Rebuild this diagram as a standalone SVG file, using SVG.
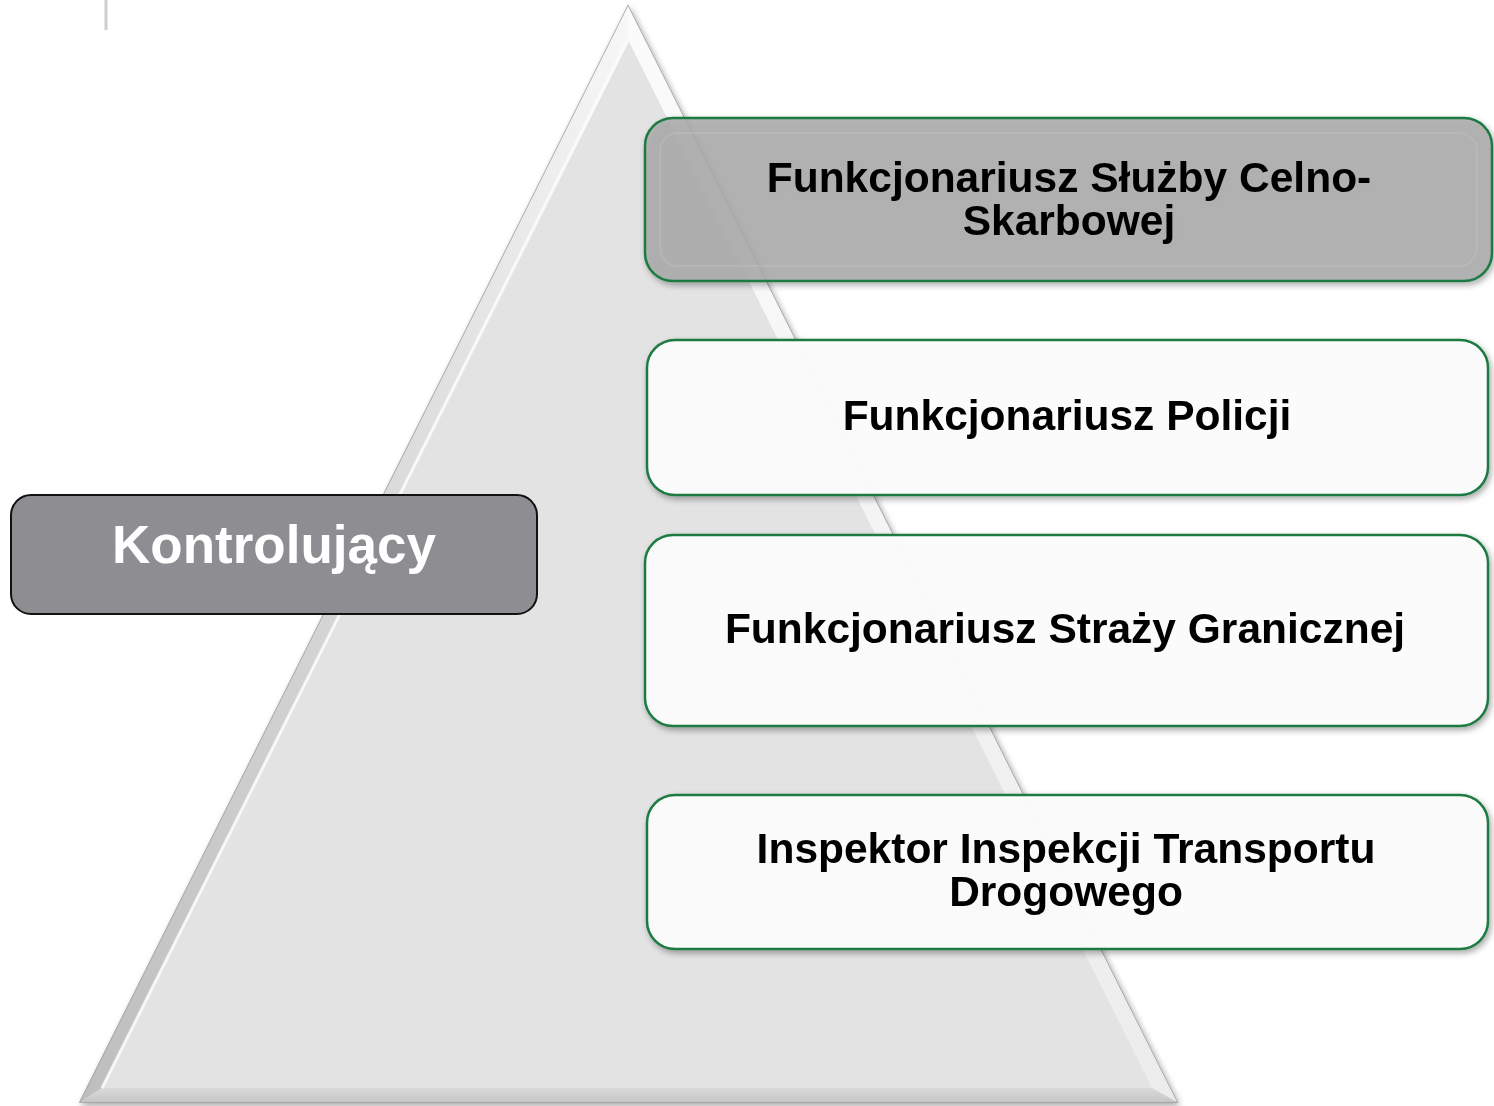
<svg xmlns="http://www.w3.org/2000/svg" width="1494" height="1106" viewBox="0 0 1494 1106">
<style>
.t{font-family:"Liberation Sans",Arial,sans-serif;font-weight:bold;text-anchor:middle}
.lbl{font-size:42.5px;fill:#000}
.box{stroke:#1c7a42;stroke-width:2.5}
</style>
<defs>
<linearGradient id="lf" x1="0" y1="0" x2="1" y2="0">
<stop offset="0" stop-color="#bdbdbd"/><stop offset="0.6" stop-color="#dcdcdc"/><stop offset="1" stop-color="#f7f7f7"/>
</linearGradient>
<linearGradient id="rf" x1="0" y1="0" x2="1" y2="0">
<stop offset="0" stop-color="#fbfbfb"/><stop offset="1" stop-color="#ececec"/>
</linearGradient>
<linearGradient id="bf" x1="0" y1="0" x2="0" y2="1">
<stop offset="0" stop-color="#dadada"/><stop offset="1" stop-color="#c6c6c6"/>
</linearGradient>
<filter id="sh" x="-5%" y="-5%" width="110%" height="115%">
<feGaussianBlur in="SourceAlpha" stdDeviation="3"/><feOffset dx="2" dy="3"/>
<feComponentTransfer><feFuncA type="linear" slope="0.35"/></feComponentTransfer>
<feMerge><feMergeNode/><feMergeNode in="SourceGraphic"/></feMerge>
</filter>
</defs>
<rect width="1494" height="1106" fill="#fff"/>
<line x1="106" y1="0" x2="106" y2="30" stroke="#cfcfcf" stroke-width="3"/>
<g id="pyramid" filter="url(#sh)">
<polygon points="628,6 80,1102 1177,1102" fill="#e2e2e2" stroke="#9a9a9a" stroke-width="1.5"/>
<polygon points="628,6 80,1102 102,1088 628,40" fill="url(#lf)"/>
<polygon points="628,6 628,40 1152,1088 1177,1102" fill="url(#rf)"/>
<polygon points="80,1102 102,1088 1152,1088 1177,1102" fill="url(#bf)"/>
<polygon points="628,40 102,1088 1152,1088" fill="#e3e3e3"/>
<line x1="628" y1="40" x2="102" y2="1088" stroke="#ffffff" stroke-width="3" opacity="0.8"/>
</g>
<g id="kontrolujacy">
<rect x="11" y="495" width="526" height="119" rx="20" fill="#8e8d92" stroke="#111" stroke-width="2"/>
<text class="t" x="274" y="563" font-size="53" fill="#fff">Kontrolujący</text>
</g>
<g id="n1" filter="url(#sh)">
<rect class="box" x="645" y="118" width="847" height="163" rx="28" fill="#ababab" fill-opacity="0.85"/>
<rect x="660" y="133" width="817" height="133" rx="18" fill="none" stroke="#c4c4c4" stroke-width="2" opacity="0.35"/>
<text class="t lbl" x="1069" y="192">Funkcjonariusz Służby Celno-</text>
<text class="t lbl" x="1069" y="235">Skarbowej</text>
</g>
<g id="n2" filter="url(#sh)">
<rect class="box" x="647" y="340" width="841" height="155" rx="28" fill="#fcfcfc" fill-opacity="0.96"/>
<text class="t lbl" x="1067" y="430">Funkcjonariusz Policji</text>
</g>
<g id="n3" filter="url(#sh)">
<rect class="box" x="645" y="535" width="843" height="191" rx="28" fill="#fcfcfc" fill-opacity="0.96"/>
<text class="t lbl" x="1065" y="643">Funkcjonariusz Straży Granicznej</text>
</g>
<g id="n4" filter="url(#sh)">
<rect class="box" x="647" y="795" width="841" height="154" rx="28" fill="#fcfcfc" fill-opacity="0.96"/>
<text class="t lbl" x="1066" y="863">Inspektor Inspekcji Transportu</text>
<text class="t lbl" x="1066" y="906">Drogowego</text>
</g>
<g id="connectors"/>
</svg>
